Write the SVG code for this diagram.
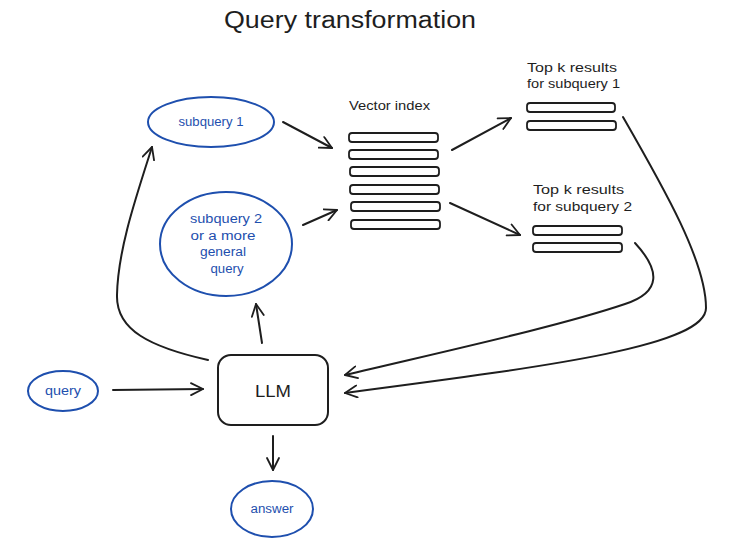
<svg xmlns="http://www.w3.org/2000/svg" width="756" height="554" viewBox="0 0 756 554">
<defs>
<marker id="ah" viewBox="0 0 14 14" refX="13" refY="7" markerWidth="14" markerHeight="14" markerUnits="userSpaceOnUse" orient="auto">
<path d="M1,1 L13,7 L1,13" fill="none" stroke="#1e1e1e" stroke-width="1.8" stroke-linecap="round" stroke-linejoin="round"/>
</marker>
<style>
text{font-family:"Liberation Sans","DejaVu Sans",sans-serif;}
.t{fill:#1e1e1e;font-size:13px;}
.b{fill:#1e4fae;font-size:12.5px;text-anchor:middle;}
.oval{fill:none;stroke:#1e4fae;stroke-width:2;}
.bar{fill:#fff;stroke:#1e1e1e;stroke-width:1.8;}
.c{fill:none;stroke:#1e1e1e;stroke-width:2;stroke-linecap:round;marker-end:url(#ah);}
</style>
</defs>
<rect width="756" height="554" fill="#fff"/>
<text x="350" y="28" text-anchor="middle" style="font-size:23px;fill:#1e1e1e" textLength="252" lengthAdjust="spacingAndGlyphs">Query transformation</text>

<g id="subquery1">
<ellipse class="oval" cx="211" cy="122" rx="63" ry="25"/>
<text class="b" x="211" y="126" textLength="65" lengthAdjust="spacingAndGlyphs">subquery 1</text>
</g>
<g id="subquery2">
<ellipse class="oval" cx="226" cy="244" rx="66" ry="52"/>
<text class="b" x="226" y="223" textLength="72" lengthAdjust="spacingAndGlyphs">subquery 2</text>
<text class="b" x="223" y="240" textLength="65" lengthAdjust="spacingAndGlyphs">or a more</text>
<text class="b" x="223" y="256" textLength="46" lengthAdjust="spacingAndGlyphs">general</text>
<text class="b" x="227" y="273" textLength="33" lengthAdjust="spacingAndGlyphs">query</text>
</g>
<g id="vector-index">
<text class="t" x="349" y="110" textLength="81" lengthAdjust="spacingAndGlyphs">Vector index</text>
<rect class="bar" x="349" y="133" width="89" height="9" rx="3"/>
<rect class="bar" x="349" y="150" width="89" height="9" rx="3"/>
<rect class="bar" x="350" y="167" width="89" height="9" rx="3"/>
<rect class="bar" x="350" y="185" width="89" height="9" rx="3"/>
<rect class="bar" x="351" y="202" width="89" height="9" rx="3"/>
<rect class="bar" x="351" y="220" width="89" height="9" rx="3"/>
</g>
<g id="topk1">
<text class="t" x="527" y="72" textLength="90" lengthAdjust="spacingAndGlyphs">Top k results</text>
<text class="t" x="527" y="88" textLength="93" lengthAdjust="spacingAndGlyphs">for subquery 1</text>
<rect class="bar" x="527" y="103" width="88" height="9" rx="3"/>
<rect class="bar" x="527" y="121" width="89" height="9" rx="3"/>
</g>
<g id="topk2">
<text class="t" x="533" y="194" textLength="91" lengthAdjust="spacingAndGlyphs">Top k results</text>
<text class="t" x="533" y="211" textLength="99" lengthAdjust="spacingAndGlyphs">for subquery 2</text>
<rect class="bar" x="533" y="226" width="89" height="9" rx="3"/>
<rect class="bar" x="533" y="243" width="89" height="9" rx="3"/>
</g>
<g id="llm">
<rect x="218" y="355" width="110" height="70" rx="13" fill="#fff" stroke="#1e1e1e" stroke-width="2"/>
<text x="273" y="397" text-anchor="middle" style="font-size:16px;fill:#1e1e1e" textLength="36" lengthAdjust="spacingAndGlyphs">LLM</text>
</g>
<g id="query">
<ellipse class="oval" cx="63" cy="391" rx="35" ry="20"/>
<text class="b" x="63" y="395" style="font-size:12px" textLength="36" lengthAdjust="spacingAndGlyphs">query</text>
</g>
<g id="answer">
<ellipse class="oval" cx="272" cy="509" rx="41" ry="28"/>
<text class="b" x="272" y="513" style="font-size:12px" textLength="43" lengthAdjust="spacingAndGlyphs">answer</text>
</g>

<g id="connectors">
<path class="c" d="M283,122 L332,148"/>
<path class="c" d="M303,225 L337,210"/>
<path class="c" d="M452,150 L511,118"/>
<path class="c" d="M450,203 L520,235"/>
<path class="c" d="M623,117 C665,190 706,262 706,308 C706,345 560,365 345,393"/>
<path class="c" d="M635,243 C660,270 662,292 625,304 C560,326 450,350 345,375"/>
<path class="c" d="M208,360 C150,347 116,330 117,295 C118,250 135,200 152,147"/>
<path class="c" d="M262,343 L256,304"/>
<path class="c" d="M113,390 L203,389"/>
<path class="c" d="M273,436 L273,470"/>
</g>
</svg>
